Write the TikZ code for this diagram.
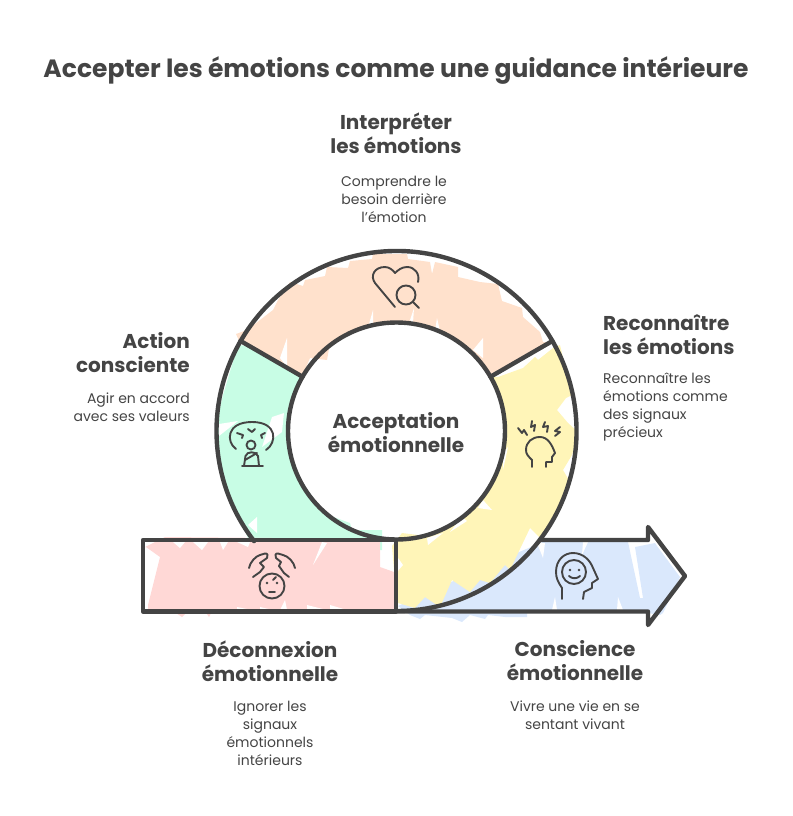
\documentclass[tikz,border=0pt]{standalone}
\usepackage{fontspec}
\setmainfont{Poppins}
\definecolor{inkgray}{HTML}{444444}
\definecolor{fillpeach}{HTML}{FFE1CC}
\definecolor{fillgreen}{HTML}{C8FDE5}
\definecolor{fillyellow}{HTML}{FFF5B8}
\definecolor{fillblue}{HTML}{DAE8FC}
\definecolor{fillred}{HTML}{FFD8D6}
\tikzset{
	outline/.style={line width=4.4pt, color=inkgray, line join=round, line cap=round},
	icon/.style={line width=1.9pt, color=inkgray, line join=round, line cap=round},
	notch/.style={fill=white},
	titletext/.style={text=inkgray, font=\fontsize{25}{30}\selectfont\bfseries, inner sep=0pt},
	headtext/.style={text=inkgray, font=\fontsize{20}{24}\selectfont\bfseries, inner sep=0pt},
	bodytext/.style={text=inkgray, font=\fontsize{14}{18}\selectfont, inner sep=0pt}
}

\begin{document}
\begin{tikzpicture}[x=1pt, y=-1pt]
	\useasboundingbox (0, 0) rectangle (792, 816);
	\coordinate (ringcenter) at (396.5, 431);

	%%%%% FILLS %%%%%

	\fill[fillgreen] (238, 345) -- (260, 347) -- (258, 352) -- (288, 365) -- (302, 377) -- (291, 410) -- (288, 431) -- (291, 458) -- (300, 480) -- (315, 500) -- (328, 515) -- (350, 523) -- (352, 530) -- (382, 530) -- (382, 550) -- (252, 550) -- (244, 527) -- (226, 490) -- (220, 470) -- (217, 440) -- (217, 420) -- (223, 395) -- (232, 365) -- cycle;
	\fill[notch] (219, 424) -- (238, 421) -- (219, 436) -- cycle (272, 417) -- (284, 413) -- (282, 432) -- (262, 447) -- cycle (248, 525) -- (257, 517) -- (257, 533) -- cycle;

	\fill[fillblue] (398, 606) -- (410, 615) -- (420, 619) -- (425, 615) -- (452, 618) -- (462, 622) -- (470, 615) -- (485, 619) -- (488, 615) -- (505, 617) -- (527, 617) -- (527, 613) -- (648, 613) -- (660, 615) -- (663, 613) -- (680, 577) -- (657, 546) -- (655, 543) -- (635, 547) -- (643, 598) -- (640, 598) -- (628, 542) -- (543, 542) -- (500, 560) -- cycle;
	\fill[notch] (537, 543) -- (545, 543) -- (543, 558) -- cycle (583, 542) -- (588, 542) -- (582, 555) -- cycle (555, 597) -- (552, 610) -- (557, 610) -- cycle (618, 597) -- (617, 610) -- (623, 610) -- cycle;

	\fill[fillred] (141, 549) -- (165, 537) -- (380, 539) -- (380, 567) -- (394, 572) -- (394, 610) -- (148, 610) -- (148, 605) -- (160, 557) -- (146, 547) -- cycle (173, 611) -- (182, 617) -- (188, 611) -- cycle (205, 611) -- (209, 617) -- (212, 611) -- cycle;
	\fill[notch] (173, 542) -- (185, 542) -- (180, 548) -- cycle (193, 542) -- (208, 542) -- (202, 550) -- cycle (220, 542) -- (228, 542) -- (223, 550) -- cycle (237, 542) -- (250, 542) -- (248, 547) -- cycle (322, 542) -- (327, 543) -- (313, 565) -- cycle (237, 607) -- (252, 610) -- (237, 610) -- cycle (260, 607) -- (273, 610) -- (260, 610) -- cycle (285, 600) -- (280, 610) -- (287, 610) -- cycle (307, 605) -- (327, 610) -- (307, 610) -- cycle (330, 605) -- (347, 610) -- (330, 610) -- cycle;

	\fill[fillpeach] (236, 334) -- (247, 330) -- (273, 310) -- (278, 300) -- (287, 287) -- (290, 282) -- (303, 286) -- (305, 280) -- (325, 276) -- (327, 267) -- (348, 268) -- (350, 261) -- (372, 259) -- (373, 254) -- (407, 254) -- (408, 259) -- (430, 262) -- (432, 274) -- (435, 262) -- (458, 267) -- (458, 277) -- (480, 282) -- (498, 284) -- (502, 301) -- (522, 308) -- (523, 317) -- (540, 332) -- (543, 342) -- (550, 343) -- (490, 377) -- (470, 348) -- (445, 335) -- (420, 325) -- (395, 322) -- (372, 325) -- (350, 332) -- (330, 343) -- (327, 360) -- (310, 358) -- (302, 377) -- (240, 343) -- cycle;
	\fill[notch] (483, 338) -- (483, 358) -- (473, 350) -- cycle (437, 318) -- (435, 331) -- (440, 331) -- cycle (414, 308) -- (410, 320) -- (413, 323) -- cycle (373, 310) -- (369, 324) -- (373, 324) -- cycle (287, 338) -- (280, 358) -- (287, 367) -- cycle;

	\fill[fillyellow] (490.5, 376.8) arc[start angle=-30, end angle=75, radius=108.5] -- (402, 533) -- (392, 546) -- (394, 570) -- (398, 603) -- (415, 608) -- (425, 597) -- (440, 607) -- (452, 580) -- (470, 592) -- (480, 580) -- (490, 583) -- (505, 565) -- (510, 570) -- (530, 528) -- (540, 538) -- (552, 520) -- (570, 482) -- (563, 470) -- (572, 455) -- (578, 432) -- (568, 423) -- (557, 410) -- (566, 398) -- (572, 395) -- (560, 345) -- (553, 348) -- (538, 360) -- (535, 357) -- (523, 368) -- (498, 377) -- cycle;
	\fill[notch] (483, 500) -- (492, 510) -- (478, 508) -- cycle (462, 517) -- (467, 521) -- (450, 532) -- cycle (443, 533) -- (428, 545) -- (427, 538) -- cycle (398, 558) -- (403, 565) -- (397, 572) -- cycle (503, 453) -- (508, 447) -- (503, 470) -- cycle;

	%%%%% OUTLINES %%%%%

	\draw[outline] (ringcenter) circle[radius=108.5];
	\draw[outline] (ringcenter) ++(210:180) arc[start angle=210, end angle=142.3, radius=180];
	\draw[outline] (ringcenter) ++(-150:180) arc[start angle=-150, end angle=90, radius=180];
	\draw[outline] (ringcenter) ++(-150:108.5) -- ++(-150:71.5);
	\draw[outline] (ringcenter) ++(-30:108.5) -- ++(-30:71.5);
	\draw[outline] (143, 540) rectangle (396, 611.5);
	\draw[outline] (540, 540) -- (648, 540) -- (648, 527) -- (685, 576) -- (648, 625) -- (648, 611.5) -- (396, 611.5);

	%%%%% ICONS %%%%%

	% heart and lens
	\draw[icon] (395, 307) -- (375, 283) .. controls (370, 276) and (374, 267) .. (385, 267) .. controls (389, 267) and (393, 270) .. (395, 273) .. controls (398, 270) and (402, 267) .. (407, 267) .. controls (415, 267) and (420, 274) .. (418, 282);
	\draw[icon] (406, 295) circle[radius=9.5];
	\draw[icon] (413, 302) -- (419, 308);

	% figure under a bubble
	\draw[icon] (236, 449) .. controls (226, 442) and (226, 422) .. (252, 422) .. controls (278, 422) and (277, 443) .. (266, 450);
	\draw[icon] (251, 445) circle[radius=4.5];
	\draw[icon] (244, 466) -- (245.5, 456) .. controls (247, 451) and (256, 451) .. (258, 456) -- (259, 466);
	\draw[icon] (245, 460) -- (257, 453);
	\draw[icon] (242, 466) -- (263, 466);
	\draw[icon] (248, 429) -- (252, 432) -- (255, 429);
	\draw[icon] (237, 433) -- (243, 435) -- (242, 438);
	\draw[icon] (265, 433) -- (261, 435) -- (262, 438);

	% head with bolts
	\draw[icon] (532, 467) -- (532, 460) .. controls (528, 456) and (526, 454) .. (526, 450) .. controls (526, 442) and (532, 437) .. (540, 437) .. controls (548, 437) and (552, 445) .. (555, 453) -- (552, 457) -- (552, 462) -- (546, 462) -- (546, 467);
	\draw[icon] (518, 428) -- (522, 433) -- (524, 430) -- (527, 435);
	\draw[icon] (532, 421) -- (531, 427) -- (535, 425) -- (534, 431);
	\draw[icon] (545, 422) -- (543, 427) -- (548, 426) -- (547, 432);
	\draw[icon] (560, 427) -- (555, 431) -- (560, 432) -- (555, 436);

	% face and hands
	\draw[icon] (272, 586) circle[radius=12.5];
	\fill[inkgray] (267, 583) circle[radius=1.3] (277, 583) circle[radius=1.3];
	\draw[icon] (269, 592) -- (275, 592);
	\draw[icon] (273, 580) -- (276, 577);
	\draw[icon] (249, 568) .. controls (250, 562) and (256, 556) .. (260, 555) -- (265, 553.5) .. controls (268, 553) and (268, 556) .. (267, 558) -- (260, 563) -- (264, 567) -- (260, 572) -- (253, 577);
	\draw[icon] (295, 568) .. controls (294, 562) and (288, 556) .. (283, 555) -- (278, 553.5) .. controls (275, 553) and (275, 556) .. (276, 558) -- (281, 562) -- (279, 566) -- (284, 573) -- (289, 577);

	% head with smile
	\draw[icon] (562, 599) -- (562, 588) .. controls (558, 582) and (556, 578) .. (556, 572) .. controls (556, 560) and (564, 553) .. (573, 553) .. controls (583, 553) and (590, 560) .. (593, 568) -- (598, 579) -- (592, 583) -- (592, 588) -- (584, 592) -- (583, 599);
	\draw[icon] (574, 572) circle[radius=12];
	\fill[inkgray] (570, 570) circle[radius=1.3] (579, 570) circle[radius=1.3];
	\draw[icon] (569, 576) .. controls (572, 579) and (577, 579) .. (580, 576);

	%%%%% TEXTS %%%%%

	\node[titletext] (titlelabel) at (396, 71) {Accepter les émotions comme une guidance intérieure};

	\node[headtext, align=center] (interpreterhead) at (396, 133) {Interpréter\\les émotions};
	\node[bodytext, align=center] (interpreterbody) at (394, 199) {Comprendre le\\besoin derrière\\l'émotion};

	\node[headtext, align=right, anchor=east] (actionhead) at (190, 353) {Action\\consciente};
	\node[bodytext, align=right, anchor=east] (actionbody) at (190, 407) {Agir en accord\\avec ses valeurs};

	\node[headtext, align=left, anchor=west] (reconnaitrehead) at (603, 335) {Reconnaître\\les émotions};
	\node[bodytext, align=left, anchor=west] (reconnaitrebody) at (603, 407) {Reconnaître les\\émotions comme\\des signaux\\précieux};

	\node[headtext, align=center] (acceptationlabel) at (396, 433) {Acceptation\\émotionnelle};

	\node[headtext, align=center] (deconnexionhead) at (270, 661) {Déconnexion\\émotionnelle};
	\node[bodytext, align=center] (deconnexionbody) at (270, 733) {Ignorer les\\signaux\\émotionnels\\intérieurs};

	\node[headtext, align=center] (consciencehead) at (575, 661) {Conscience\\émotionnelle};
	\node[bodytext, align=center] (consciencebody) at (575, 715) {Vivre une vie en se\\sentant vivant};
\end{tikzpicture}
\end{document}
